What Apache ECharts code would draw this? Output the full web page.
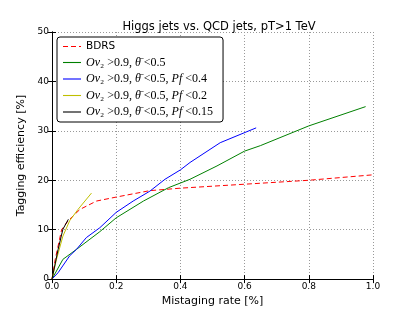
<!DOCTYPE html>
<html><head><meta charset="utf-8">
<script src="https://cdn.jsdelivr.net/npm/echarts@6/dist/echarts.min.js"></script>
<style>html,body{margin:0;padding:0;background:#fff}#c{width:415px;height:312px}</style>
</head><body><div id="c"></div>
<script>
const titleText = 'Higgs jets vs. QCD jets, pT>1 TeV';
const xName = 'Mistaging rate [%]';
const yName = 'Tagging efficiency [%]';
const xTicks = [0.0, 0.2, 0.4, 0.6, 0.8, 1.0];
const yTicks = [0, 10, 20, 30, 40, 50];

const seriesNames = ['BDRS', 'ov', 'ovpf04', 'ovpf02', 'ovpf015'];

const bdrsX = [0, 0.01, 0.03, 0.05, 0.087, 0.139, 0.2, 0.305, 0.4, 0.6, 0.8, 1.0];
const bdrsY = [0, 4, 10, 11.8, 14.1, 15.8, 16.6, 17.9, 18.4, 19.2, 20.0, 21.1];

const greenX = [0, 0.034, 0.076, 0.149, 0.2, 0.285, 0.363, 0.43, 0.514, 0.6, 0.649, 0.8, 0.977];
const greenY = [0, 4, 6, 9.6, 12.4, 15.8, 18.5, 20.2, 22.9, 25.9, 27.0, 31.0, 34.9];

const blueX = [0, 0.019, 0.055, 0.076, 0.107, 0.149, 0.2, 0.253, 0.305, 0.352, 0.40, 0.43, 0.524, 0.636];
const blueY = [0, 1.3, 4.7, 6, 8.4, 10.4, 13.5, 15.8, 17.8, 20.2, 22.1, 23.6, 27.6, 30.6];

const yellowX = [0, 0.014, 0.034, 0.055, 0.081, 0.123];
const yellowY = [0, 4, 8.7, 11.8, 14.1, 17.4];

const blackX = [0, 0.019, 0.034, 0.051];
const blackY = [0, 6, 10.1, 12.1];

const zip = (xs, ys) => xs.map((x, i) => [x, ys[i]]);

const legendRich = {
  BDRS: '{b|BDRS}',
  ov: '{i|Ov}{n|₂ >0.9, }{i|θ̄}{n| <0.5}',
  ovpf04: '{i|Ov}{n|₂ >0.9, }{i|θ̄}{n| <0.5, }{i|Pf}{n| <0.4}',
  ovpf02: '{i|Ov}{n|₂ >0.9, }{i|θ̄}{n| <0.5, }{i|Pf}{n| <0.2}',
  ovpf015: '{i|Ov}{n|₂ >0.9, }{i|θ̄}{n| <0.5, }{i|Pf}{n| <0.15}'
};
const solidIcon = 'path://M0,0h18v1.1h-18z';
const dashIcon = 'path://M0,0h5v1.1h-5z M8,0h5v1.1h-5z M16,0h2v1.1h-2z';
const legendIcons = ['dash', 'solid', 'solid', 'solid', 'solid'];

function mk(name, xs, ys, color, dashed) {
  return {
    name: name, type: 'line', data: zip(xs, ys), symbol: 'none', smooth: false,
    lineStyle: { color: color, width: 1, type: dashed ? [5, 3] : 'solid' },
    itemStyle: { color: color }, animation: false
  };
}

const chart = echarts.init(document.getElementById('c'), null, { renderer: 'canvas' });
const axisCommon = {
  type: 'value',
  axisLine: { show: true, lineStyle: { color: '#000', width: 1 } },
  axisTick: { show: true, inside: true, length: 4, lineStyle: { color: '#000' } },
  splitLine: { show: false }
};
chart.setOption({
  animation: false,
  backgroundColor: '#fff',
  title: {
    text: titleText, left: 214, top: 16, textAlign: 'center',
    textStyle: { fontFamily: 'DejaVu Sans', fontSize: 11.5, fontWeight: 'normal', color: '#000' }
  },
  grid: { left: 52, right: 42, top: 32, bottom: 32, show: false },
  legend: {
    orient: 'vertical', left: 57, top: 37,
    data: seriesNames.map((n, i) => ({ name: n, icon: legendIcons[i] === 'dash' ? dashIcon : solidIcon })),
    itemWidth: 18, itemHeight: 8, itemGap: 4.5,
    padding: [4, 10, 4, 6],
    backgroundColor: '#fff', borderColor: '#000', borderWidth: 1, borderRadius: 3,
    formatter: n => legendRich[n],
    textStyle: {
      fontFamily: 'DejaVu Sans', fontSize: 11, color: '#000',
      rich: {
        b: { fontFamily: 'DejaVu Sans', fontSize: 10.5, color: '#000' },
        i: { fontFamily: 'Liberation Serif', fontStyle: 'italic', fontSize: 12, color: '#000' },
        n: { fontFamily: 'Liberation Serif', fontSize: 12, color: '#000' }
      }
    }
  },
  xAxis: [
    Object.assign({}, axisCommon, {
      min: 0, max: 1, interval: 0.2, position: 'bottom',
      name: xName, nameLocation: 'middle', nameGap: 16,
      nameTextStyle: { fontFamily: 'DejaVu Sans', fontSize: 11, color: '#000' },
      axisLabel: { fontFamily: 'DejaVu Sans', fontSize: 9, color: '#000', margin: 3,
        formatter: v => v.toFixed(1) },
      splitLine: { show: true, lineStyle: { color: '#999', type: [1, 2], width: 1 } }
    }),
    Object.assign({}, axisCommon, {
      min: 0, max: 1, interval: 0.2, position: 'top', axisLabel: { show: false }
    })
  ],
  yAxis: [
    Object.assign({}, axisCommon, {
      min: 0, max: 50, interval: 10, position: 'left',
      name: yName, nameLocation: 'middle', nameGap: 24,
      nameTextStyle: { fontFamily: 'DejaVu Sans', fontSize: 11, color: '#000' },
      axisLabel: { fontFamily: 'DejaVu Sans', fontSize: 9, color: '#000', margin: 3 },
      splitLine: { show: true, lineStyle: { color: '#999', type: [1, 2], width: 1 } }
    }),
    Object.assign({}, axisCommon, {
      min: 0, max: 50, interval: 10, position: 'right', axisLabel: { show: false }
    })
  ],
  series: [
    mk('BDRS', bdrsX, bdrsY, '#ff0000', true),
    mk('ov', greenX, greenY, '#008000', false),
    mk('ovpf04', blueX, blueY, '#0000ff', false),
    mk('ovpf02', yellowX, yellowY, '#bfbf00', false),
    mk('ovpf015', blackX, blackY, '#000000', false)
  ]
});
</script>
</body></html>
